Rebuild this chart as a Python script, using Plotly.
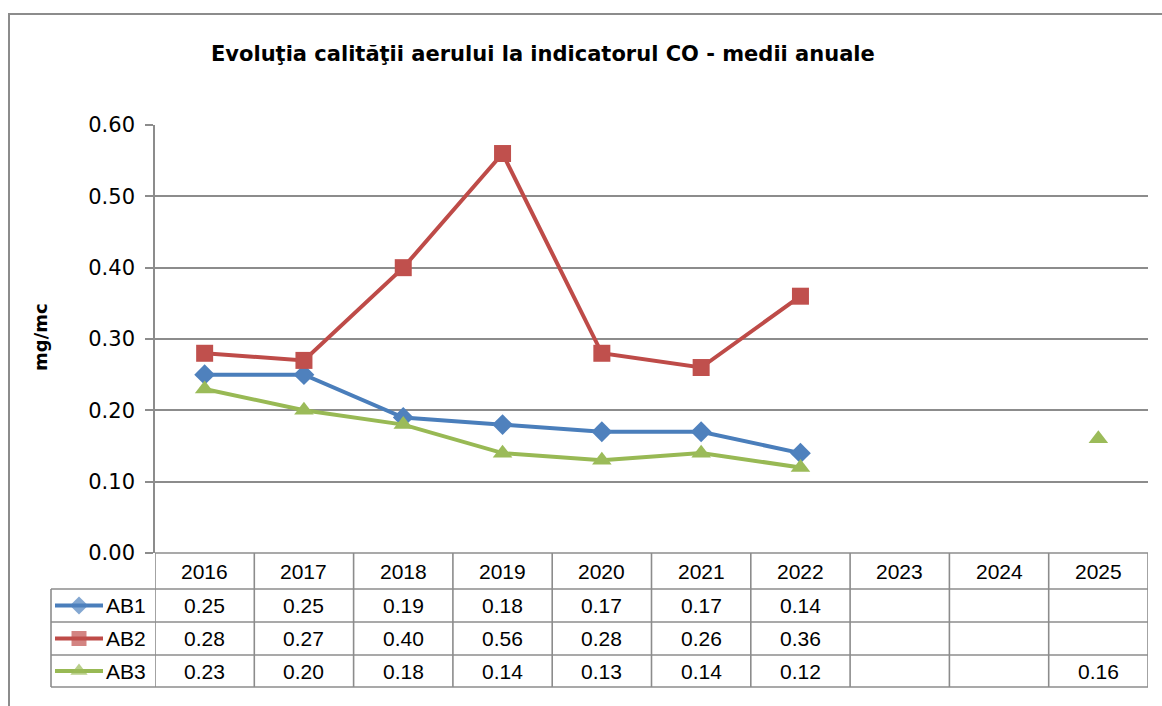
import plotly.graph_objects as go

W, H = 1162, 706

years = ["2016", "2017", "2018", "2019", "2020", "2021", "2022", "2023", "2024", "2025"]
series_names = ["AB1", "AB2", "AB3"]
ab1 = [0.25, 0.25, 0.19, 0.18, 0.17, 0.17, 0.14, None, None, None]
ab2 = [0.28, 0.27, 0.40, 0.56, 0.28, 0.26, 0.36, None, None, None]
ab3 = [0.23, 0.20, 0.18, 0.14, 0.13, 0.14, 0.12, None, None, 0.16]
y_ticks = [0.0, 0.1, 0.2, 0.3, 0.4, 0.5, 0.6]

title_text = "Evoluţia calităţii aerului la indicatorul CO - medii anuale"
y_title = "mg/mc"

line_colors = ["#4A7EBB", "#BE4B48", "#98B954"]
marker_colors = ["#4F81BD", "#C0504D", "#9BBB59"]
symbols = ["diamond", "square", "triangle-up"]
msizes = [16, 17, 17]
grid_col = "#8C8C8C"


def px(x):
    return x / W


def py(y):
    return 1 - y / H


plot_l, plot_r, plot_t, plot_b = 155, 1148, 125, 553
row_edges = [553, 589, 622, 655, 687]
leg_l = 51

fig = go.Figure()
data = [ab1, ab2, ab3]
xs = list(range(len(years)))
for name, vals, lc, mc, sym, ms in zip(series_names, data, line_colors, marker_colors, symbols, msizes):
    fig.add_trace(go.Scatter(
        x=xs, y=vals, mode="lines+markers", name=name,
        line=dict(color=lc, width=4),
        marker=dict(symbol=sym, size=ms, color=mc, line=dict(width=0)),
        connectgaps=False, showlegend=False, xaxis="x", yaxis="y"))

annotations = []
tfont = dict(family="Liberation Sans, Arial", size=21, color="#000")

# legend keys in the table's left column
for i, (name, lc, mc, sym, ms) in enumerate(zip(series_names, line_colors, marker_colors, symbols, msizes)):
    cy = (row_edges[i + 1] + row_edges[i + 2]) / 2
    fig.add_trace(go.Scatter(
        x=[55, 79, 103], y=[cy, cy, cy], mode="lines+markers",
        line=dict(color=lc, width=4),
        marker=dict(symbol=sym, size=[0, ms - 2, 0], color=mc, line=dict(width=0)),
        showlegend=False, hoverinfo="skip", xaxis="x2", yaxis="y2"))
    annotations.append(dict(x=px(104), y=py(cy), xref="paper", yref="paper",
                            text=name, showarrow=False, xanchor="left", yanchor="middle", font=tfont))

shapes = []
line_style = dict(color=grid_col, width=1.6)
shapes.append(dict(type="rect", xref="paper", yref="paper", x0=px(9), x1=px(1175), y0=py(14), y1=py(720),
                   line=dict(color=grid_col, width=2), fillcolor="rgba(0,0,0,0)"))
for j, ry in enumerate(row_edges):
    if j == 0:
        shapes.append(dict(type="line", xref="x", yref="paper", x0=-0.5, x1=len(years) - 0.5,
                           y0=py(ry), y1=py(ry), line=line_style))
    else:
        shapes.append(dict(type="line", xref="paper", yref="paper", x0=px(leg_l), x1=px(plot_r),
                           y0=py(ry), y1=py(ry), line=line_style))
for k in range(len(years) + 1):
    shapes.append(dict(type="line", xref="x", yref="paper", x0=k - 0.5, x1=k - 0.5,
                       y0=py(row_edges[0]), y1=py(row_edges[-1]), line=line_style))
shapes.append(dict(type="line", xref="paper", yref="paper", x0=px(leg_l), x1=px(leg_l),
                   y0=py(row_edges[1]), y1=py(row_edges[-1]), line=line_style))

for k, yr in enumerate(years):
    annotations.append(dict(x=k, y=py((row_edges[0] + row_edges[1]) / 2), xref="x", yref="paper",
                            text=yr, showarrow=False, xanchor="center", yanchor="middle", font=tfont))
for i, vals in enumerate(data):
    cy = (row_edges[i + 1] + row_edges[i + 2]) / 2
    for k, v in enumerate(vals):
        if v is None:
            continue
        annotations.append(dict(x=k, y=py(cy), xref="x", yref="paper",
                                text=f"{v:.2f}", showarrow=False, xanchor="center", yanchor="middle",
                                font=tfont))

annotations.append(dict(x=px(543), y=py(54), xref="paper", yref="paper", text="<b>" + title_text + "</b>",
                        showarrow=False, xanchor="center", yanchor="middle",
                        font=dict(family="DejaVu Sans", size=21, color="#000")))
annotations.append(dict(x=px(40), y=py(337), xref="paper", yref="paper", text="<b>" + y_title + "</b>",
                        showarrow=False, textangle=-90, xanchor="center", yanchor="middle",
                        font=dict(family="DejaVu Sans", size=18, color="#000")))

fig.update_layout(
    width=W, height=H, margin=dict(l=0, r=0, t=0, b=0, autoexpand=False),
    paper_bgcolor="white", plot_bgcolor="white",
    shapes=shapes, annotations=annotations,
    xaxis=dict(domain=[px(plot_l), px(plot_r)], range=[-0.5, len(years) - 0.5],
               showticklabels=False, showgrid=False, zeroline=False, showline=False, fixedrange=True),
    yaxis=dict(domain=[py(plot_b), py(plot_t)], range=[0, 0.6], tickvals=y_ticks,
               tickformat=".2f", showgrid=True, gridcolor=grid_col, gridwidth=1.6,
               zeroline=False, showline=True, linecolor=grid_col, linewidth=1.6,
               ticks="outside", ticklen=8, tickcolor=grid_col, tickwidth=1.6,
               tickfont=dict(family="DejaVu Sans", size=21, color="#000"), ticklabelstandoff=6),
    xaxis2=dict(domain=[px(leg_l), px(plot_l)], range=[leg_l, plot_l], visible=False, fixedrange=True,
                anchor="y2"),
    yaxis2=dict(domain=[py(row_edges[-1]), py(row_edges[1])], range=[row_edges[-1], row_edges[1]],
                visible=False, anchor="x2", fixedrange=True),
)

fig.write_html("out.html", config={"displayModeBar": False},
               post_script="document.body.style.margin='0';document.body.style.overflow='hidden';")
